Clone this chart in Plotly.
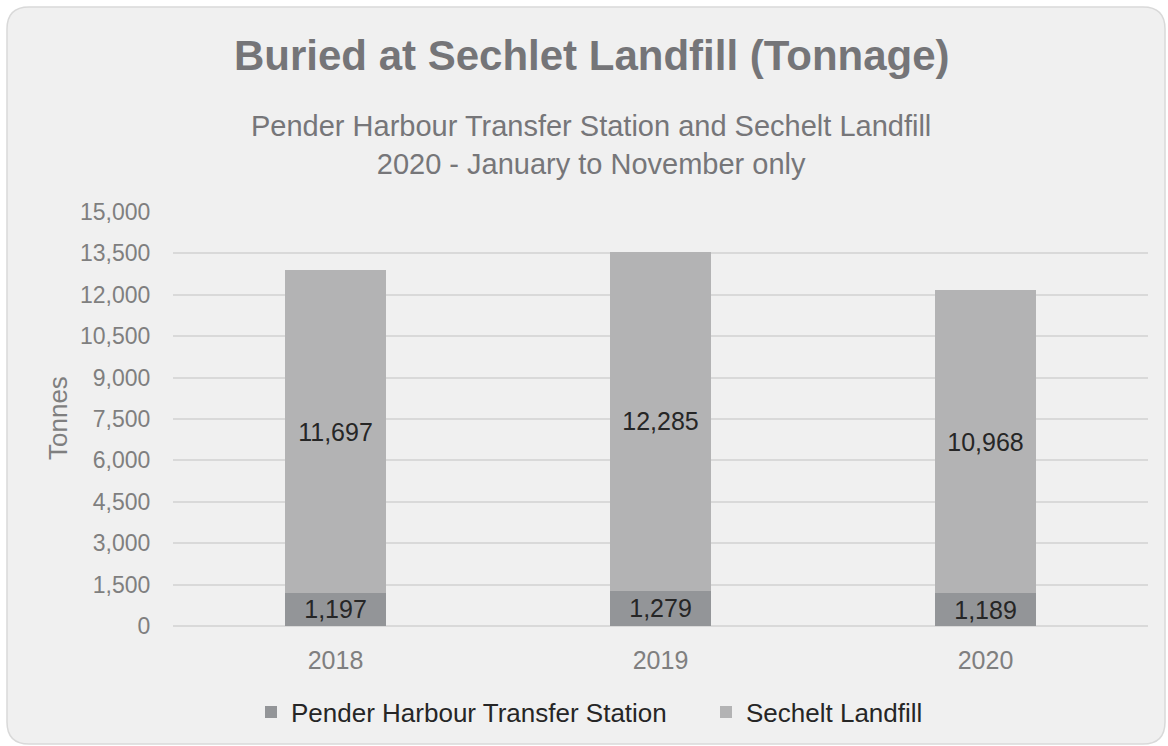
import plotly.graph_objects as go

# data
years = ["2018", "2019", "2020"]
pender = [1197, 1279, 1189]
sechelt = [11697, 12285, 10968]
tick_vals = [0, 1500, 3000, 4500, 6000, 7500, 9000, 10500, 12000, 13500, 15000]

# layout geometry (pixels)
W, H = 1168, 746
L, R, T, B = 173, 20, 212, 120
pw, ph = W - L - R, H - T - B


def px(x):
    return (x - L) / pw


def py(y):
    return (H - B - y) / ph


FONT = "Liberation Sans, Arial, sans-serif"

fig = go.Figure()

fig.add_trace(go.Bar(
    x=years, y=pender, name="Pender Harbour Transfer Station",
    marker=dict(color="#939598", line=dict(width=0)),
    texttemplate="%{y:,}", textposition="inside", insidetextanchor="middle",
    textangle=0, constraintext="none",
    textfont=dict(size=25, color="#262626", family=FONT),
))
fig.add_trace(go.Bar(
    x=years, y=sechelt, name="Sechelt Landfill",
    marker=dict(color="#b3b3b4", line=dict(width=0)),
    texttemplate="%{y:,}", textposition="inside", insidetextanchor="middle",
    textangle=0, constraintext="none",
    textfont=dict(size=25, color="#262626", family=FONT),
))

# rounded card background
x0, x1, y0, y1, r = px(7), px(1165), py(744), py(7), 22
rx, ry = r / pw, r / ph
path = (
    f"M {x0 + rx},{y1} L {x1 - rx},{y1} Q {x1},{y1} {x1},{y1 - ry} "
    f"L {x1},{y0 + ry} Q {x1},{y0} {x1 - rx},{y0} "
    f"L {x0 + rx},{y0} Q {x0},{y0} {x0},{y0 + ry} "
    f"L {x0},{y1 - ry} Q {x0},{y1} {x0 + rx},{y1} Z"
)
fig.add_shape(type="path", path=path, xref="paper", yref="paper",
              fillcolor="#f0f0f0", line=dict(color="#d9d9d9", width=1.5),
              layer="below")

# titles
fig.add_annotation(text="<b>Buried at Sechlet Landfill (Tonnage)</b>",
                   x=px(592), y=py(55), xref="paper", yref="paper",
                   showarrow=False, xanchor="center", yanchor="middle",
                   font=dict(size=42, color="#757578", family=FONT))
fig.add_annotation(text="Pender Harbour Transfer Station and Sechelt Landfill<br>2020 - January to November only",
                   x=px(591), y=py(145), xref="paper", yref="paper",
                   showarrow=False, xanchor="center", yanchor="middle",
                   font=dict(size=29, color="#767679", family=FONT))
fig.add_annotation(text="Tonnes", x=px(58), y=py(418), xref="paper", yref="paper",
                   showarrow=False, textangle=-90, xanchor="center", yanchor="middle",
                   font=dict(size=26, color="#7f7f7f", family=FONT))

fig.update_layout(
    width=W, height=H,
    margin=dict(l=L, r=R, t=T, b=B, autoexpand=False),
    paper_bgcolor="white",
    plot_bgcolor="rgba(0,0,0,0)",
    barmode="stack",
    bargap=0.69,
    font=dict(family=FONT),
    showlegend=True,
    legend=dict(orientation="h", x=px(251), y=py(712), xanchor="left", yanchor="middle",
                font=dict(size=26, color="#262626", family=FONT),
                bgcolor="rgba(0,0,0,0)", itemwidth=30, traceorder="normal",
                entrywidth=410, entrywidthmode="pixels"),
    xaxis=dict(showgrid=False, showline=False, zeroline=False,
               ticks="outside", ticklen=12, tickcolor="rgba(0,0,0,0)",
               tickfont=dict(size=25, color="#7f7f7f", family=FONT)),
    yaxis=dict(range=[0, 15000], tickvals=tick_vals, tickformat=",",
               showgrid=True, gridcolor="#d9d9d9", gridwidth=1.5,
               zeroline=True, zerolinecolor="#d9d9d9", zerolinewidth=1.5,
               showline=False, ticks="outside", ticklen=17,
               tickcolor="rgba(0,0,0,0)",
               tickfont=dict(size=23, color="#7f7f7f", family=FONT)),
)

fig.write_html("out.html", config={"displayModeBar": False},
               post_script="document.body.style.margin='0';")
